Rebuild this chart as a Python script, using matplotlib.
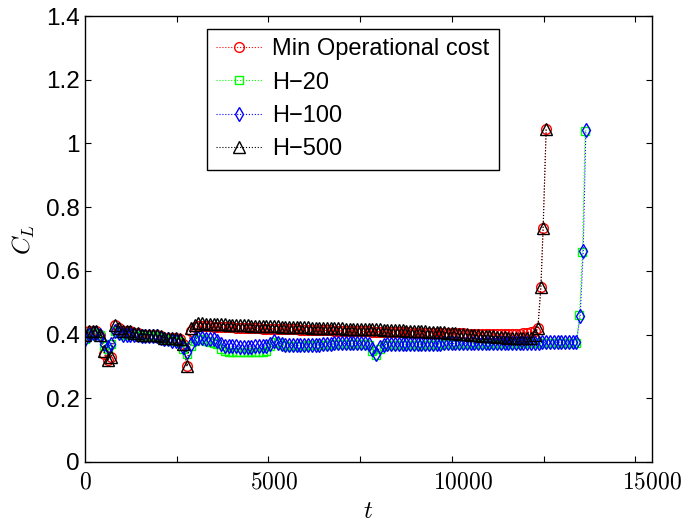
import numpy as np
import matplotlib
matplotlib.use("Agg")
import matplotlib.pyplot as plt

# Datos (C_L frente a t)
t_rojo = np.arange(0, 12000, 100)
cl_rojo = [
    0.400, 0.410, 0.410, 0.410, 0.400, 0.340, 0.320, 0.330, 0.430, 0.420,
    0.410, 0.410, 0.410, 0.405, 0.405, 0.400, 0.400, 0.400, 0.400, 0.400,
    0.395, 0.390, 0.390, 0.390, 0.390, 0.385, 0.370, 0.300, 0.410, 0.425,
    0.428, 0.427, 0.426, 0.426, 0.425, 0.425, 0.424, 0.424, 0.423, 0.423,
    0.422, 0.422, 0.421, 0.421, 0.420, 0.420, 0.420, 0.419, 0.419, 0.418,
    0.418, 0.418, 0.417, 0.417, 0.416, 0.416, 0.416, 0.415, 0.415, 0.415,
    0.414, 0.414, 0.414, 0.413, 0.413, 0.413, 0.412, 0.412, 0.412, 0.411,
    0.411, 0.411, 0.410, 0.410, 0.410, 0.410, 0.409, 0.409, 0.409, 0.408,
    0.408, 0.408, 0.408, 0.407, 0.407, 0.407, 0.407, 0.406, 0.406, 0.406,
    0.406, 0.405, 0.405, 0.405, 0.405, 0.405, 0.404, 0.404, 0.404, 0.404,
    0.404, 0.403, 0.403, 0.403, 0.403, 0.403, 0.403, 0.402, 0.402, 0.402,
    0.402, 0.402, 0.402, 0.402, 0.402, 0.403, 0.404, 0.405, 0.407, 0.410,
]
t_pico_rojo = [11980, 12060, 12120, 12200]
cl_pico_rojo = [0.420, 0.548, 0.735, 1.045]

cl_negro = [
    0.400, 0.410, 0.410, 0.410, 0.400, 0.350, 0.320, 0.330, 0.430, 0.420,
    0.410, 0.410, 0.410, 0.405, 0.405, 0.400, 0.400, 0.400, 0.400, 0.400,
    0.395, 0.390, 0.390, 0.390, 0.390, 0.385, 0.370, 0.300, 0.420, 0.430,
    0.435, 0.435, 0.434, 0.434, 0.433, 0.433, 0.432, 0.432, 0.431, 0.431,
    0.430, 0.430, 0.429, 0.429, 0.428, 0.428, 0.428, 0.427, 0.427, 0.426,
    0.426, 0.426, 0.425, 0.425, 0.424, 0.424, 0.424, 0.423, 0.423, 0.423,
    0.422, 0.422, 0.422, 0.421, 0.421, 0.421, 0.420, 0.420, 0.420, 0.419,
    0.419, 0.419, 0.418, 0.418, 0.418, 0.417, 0.417, 0.416, 0.416, 0.415,
    0.415, 0.414, 0.414, 0.413, 0.413, 0.412, 0.412, 0.411, 0.411, 0.410,
    0.410, 0.409, 0.409, 0.408, 0.408, 0.407, 0.406, 0.405, 0.404, 0.403,
    0.402, 0.401, 0.400, 0.399, 0.398, 0.397, 0.396, 0.395, 0.394, 0.393,
    0.392, 0.391, 0.390, 0.390, 0.389, 0.389, 0.388, 0.388, 0.390, 0.400,
]

t_azul = np.arange(0, 13100, 100)
cl_azul = [
    0.385, 0.400, 0.405, 0.405, 0.400, 0.370, 0.360, 0.370, 0.410, 0.405,
    0.400, 0.400, 0.400, 0.398, 0.398, 0.397, 0.397, 0.396, 0.396, 0.395,
    0.390, 0.385, 0.385, 0.380, 0.380, 0.380, 0.360, 0.345, 0.370, 0.385,
    0.390, 0.390, 0.385, 0.385, 0.385, 0.380, 0.370, 0.365, 0.364, 0.363,
    0.363, 0.362, 0.362, 0.362, 0.362, 0.363, 0.363, 0.364, 0.365, 0.370,
    0.380, 0.375, 0.370, 0.366, 0.366, 0.366, 0.367, 0.367, 0.367, 0.368,
    0.368, 0.368, 0.368, 0.369, 0.369, 0.369, 0.372, 0.372, 0.372, 0.372,
    0.372, 0.372, 0.372, 0.372, 0.372, 0.370, 0.355, 0.340, 0.360, 0.368,
    0.369, 0.369, 0.370, 0.370, 0.370, 0.370, 0.370, 0.370, 0.370, 0.371,
    0.371, 0.371, 0.371, 0.371, 0.371, 0.372, 0.372, 0.372, 0.372, 0.372,
    0.372, 0.372, 0.373, 0.373, 0.373, 0.373, 0.373, 0.373, 0.373, 0.374,
    0.374, 0.374, 0.374, 0.374, 0.374, 0.375, 0.375, 0.375, 0.375, 0.375,
    0.375, 0.376, 0.376, 0.376, 0.376, 0.376, 0.377, 0.377, 0.377, 0.377,
    0.377,
]
t_pico_azul = [13100, 13180, 13250]
cl_pico_azul = [0.458, 0.662, 1.042]

cl_verde = [
    0.385, 0.400, 0.405, 0.405, 0.400, 0.365, 0.355, 0.370, 0.410, 0.405,
    0.400, 0.400, 0.400, 0.398, 0.398, 0.397, 0.397, 0.396, 0.396, 0.395,
    0.390, 0.385, 0.385, 0.380, 0.380, 0.378, 0.355, 0.340, 0.365, 0.380,
    0.385, 0.385, 0.380, 0.378, 0.375, 0.370, 0.355, 0.348, 0.346, 0.345,
    0.345, 0.344, 0.344, 0.344, 0.344, 0.345, 0.345, 0.346, 0.350, 0.365,
    0.378, 0.372, 0.366, 0.364, 0.364, 0.364, 0.365, 0.365, 0.365, 0.366,
    0.366, 0.366, 0.366, 0.367, 0.367, 0.367, 0.370, 0.370, 0.370, 0.370,
    0.370, 0.370, 0.370, 0.370, 0.370, 0.368, 0.350, 0.335, 0.355, 0.365,
    0.366, 0.366, 0.367, 0.367, 0.367, 0.367, 0.367, 0.367, 0.367, 0.368,
    0.368, 0.368, 0.368, 0.368, 0.368, 0.369, 0.369, 0.369, 0.369, 0.369,
    0.369, 0.369, 0.370, 0.370, 0.370, 0.370, 0.370, 0.370, 0.370, 0.371,
    0.371, 0.371, 0.371, 0.371, 0.371, 0.372, 0.372, 0.372, 0.372, 0.372,
    0.372, 0.373, 0.373, 0.373, 0.373, 0.373, 0.374, 0.374, 0.374, 0.374,
    0.374,
]
t_pico_verde = [13080, 13160, 13230]
cl_pico_verde = [0.460, 0.660, 1.040]

etiquetas = ["Min Operational cost", "H\u221220", "H\u2212100", "H\u2212500"]
ticks_x = [0, 5000, 10000, 15000]
ticks_y = [0, 0.2, 0.4, 0.6, 0.8, 1.0, 1.2, 1.4]
etiquetas_y = ["0", "0.2", "0.4", "0.6", "0.8", "1", "1.2", "1.4"]

plt.rcParams['mathtext.fontset'] = 'cm'
plt.rcParams['font.family'] = ['Liberation Sans', 'DejaVu Sans']

fig = plt.figure(figsize=(6.91, 5.25), dpi=100)
ax = fig.add_axes([85 / 691, 63 / 525, 567 / 691, 446 / 525])

estilo = dict(linestyle=':', linewidth=0.8, markerfacecolor='none', markeredgewidth=1.0)
ax.plot(np.concatenate([t_rojo, t_pico_rojo]), cl_rojo + cl_pico_rojo,
        color='red', marker='o', markersize=7, label=etiquetas[0], **estilo)
ax.plot(np.concatenate([t_azul, t_pico_verde]), cl_verde + cl_pico_verde,
        color='#00ff00', marker='s', markersize=6, label=etiquetas[1], **estilo)
ax.plot(np.concatenate([t_azul, t_pico_azul]), cl_azul + cl_pico_azul,
        color='blue', marker='d', markersize=7.5, label=etiquetas[2], **estilo)
ax.plot(np.concatenate([t_rojo, t_pico_rojo]), cl_negro + cl_pico_rojo,
        color='black', marker='^', markersize=8, label=etiquetas[3], **estilo)

ax.set_xlim(0, 15000)
ax.set_ylim(0, 1.4)

ax.set_xticks(ticks_x)
ax.set_xticklabels(['$%d$' % v for v in ticks_x], fontsize=17)
ax.set_xticks([2426 * k for k in range(1, 7)], minor=True)
ax.tick_params(axis='x', which='major', length=0, pad=7)
ax.tick_params(axis='x', which='minor', direction='in', length=4.5, width=0.8,
               top=True, bottom=True)
ax.set_yticks(ticks_y)
ax.set_yticklabels(etiquetas_y, fontsize=17.5)
ax.tick_params(axis='y', direction='in', length=4.5, width=0.8, left=True,
               right=True, pad=4)

for s in ax.spines.values():
    s.set_linewidth(1.0)

ax.set_xlabel('$t$', fontsize=18, labelpad=4)
ax.set_ylabel('$C_L$', fontsize=18, labelpad=6)

ley = ax.legend(loc='upper left', bbox_to_anchor=(0.215, 0.971), borderaxespad=0,
                fontsize=17, handlelength=1.95, handletextpad=0.42, borderpad=0.4,
                labelspacing=0.48, fancybox=False, framealpha=1, edgecolor='black',
                numpoints=1)
ley.get_frame().set_linewidth(1.0)

fig.savefig('out.png', dpi=100)
